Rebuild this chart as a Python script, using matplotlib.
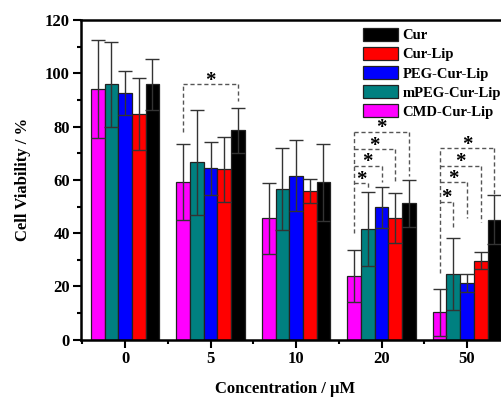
import numpy as np
import matplotlib
matplotlib.use("Agg")
import matplotlib.pyplot as plt
from matplotlib.ticker import MultipleLocator, FixedLocator

plt.rcParams['font.family'] = ['Liberation Serif', 'DejaVu Serif']
plt.rcParams['font.weight'] = 'bold'

groups = ['0', '5', '10', '20', '50']
series_names = ['CMD-Cur-Lip', 'mPEG-Cur-Lip', 'PEG-Cur-Lip', 'Cur-Lip', 'Cur']
colors = ['#FF00FF', '#008080', '#0000FF', '#FF0000', '#000000']

cmd = [94.1, 59.2, 45.6, 23.9, 10.4]
mpeg = [95.9, 66.6, 56.6, 41.5, 24.6]
peg = [92.5, 64.3, 61.6, 49.7, 21.2]
curlip = [84.6, 64.0, 55.8, 45.8, 29.7]
cur = [95.9, 78.6, 59.1, 51.2, 45.0]

cmd_err = [18.3, 14.2, 13.4, 9.8, 8.8]
mpeg_err = [16.0, 19.8, 15.5, 13.8, 13.6]
peg_err = [8.3, 10.0, 13.4, 7.6, 3.4]
curlip_err = [13.5, 12.2, 4.5, 9.3, 3.2]
cur_err = [9.5, 8.4, 14.5, 8.9, 9.2]

values = [cmd, mpeg, peg, curlip, cur]
errors = [cmd_err, mpeg_err, peg_err, curlip_err, cur_err]

# significance brackets: (group index, left bar, right bar, level, right-end bottom)
brk_group = [1, 3, 3, 3, 3, 4, 4, 4, 4]
brk_left = [0, 0, 0, 0, 0, 0, 0, 0, 0]
brk_right = [4, 1, 2, 3, 4, 1, 2, 3, 4]
brk_level = [95.9, 58.7, 65.3, 71.6, 78.1, 51.8, 59.1, 65.3, 71.9]
brk_rbottom = [89.5, 57.0, 59.3, 59.3, 61.5, 42.4, 45.6, 44.3, 54.3]
# left common line bottom per group
left_group = [1, 3, 4]
left_bottom = [78.0, 40.0, 25.0]

fig = plt.figure(figsize=(5.01, 3.99), dpi=100)
ax = fig.add_axes([0.1617, 0.1484, 0.8563, 0.8016])

x = np.arange(len(groups))
w = 0.16
offsets = (np.arange(5) - 2) * w
bars = []
for i in range(5):
    b = ax.bar(x + offsets[i], values[i], w, color=colors[i], edgecolor='#222222',
               linewidth=0.9, label=series_names[i], zorder=2)
    ax.errorbar(x + offsets[i], values[i], yerr=errors[i], fmt='none',
                ecolor='#333333', elinewidth=1.0, capsize=5, capthick=1.0, zorder=3)
    bars.append(b)

dash = dict(color='#555555', lw=1.0, linestyle=(0, (3, 2)), zorder=4)
for gi, lb in zip(left_group, left_bottom):
    tops = [lv for g, lv in zip(brk_group, brk_level) if g == gi]
    xl = gi + offsets[0]
    ax.plot([xl, xl], [lb, max(tops)], **dash)
for g, l, r, lv, rb in zip(brk_group, brk_left, brk_right, brk_level, brk_rbottom):
    xl = g + offsets[l]
    xr = g + offsets[r]
    ax.plot([xl, xr], [lv, lv], **dash)
    ax.plot([xr, xr], [lv, rb], **dash)
    ax.text((xl + xr) / 2, lv - 0.6, '*', ha='center', va='baseline', fontsize=15,
            fontweight='bold', zorder=5)

ax.set_xlim(-0.515, 4.503)
ax.set_ylim(0, 120)
ax.set_xticks(x)
ax.set_xticklabels(groups)
ax.xaxis.set_minor_locator(FixedLocator(np.arange(-0.5, 5, 1.0)))
ax.yaxis.set_major_locator(MultipleLocator(20))
ax.yaxis.set_minor_locator(MultipleLocator(10))
ax.tick_params(axis='both', which='major', direction='out', length=6, width=1.5,
               labelsize=12, pad=2)
ax.tick_params(axis='both', which='minor', direction='out', length=3, width=1.5)
for s in ax.spines.values():
    s.set_linewidth(1.8)

ax.set_ylabel('Cell Viability / %', fontsize=12, fontweight='bold')
ax.yaxis.set_label_coords(-0.116, 0.5)
ax.set_xlabel('Concentration / μM', fontsize=12, fontweight='bold')
ax.xaxis.set_label_coords(0.4755, -0.128)

handles = bars[::-1]
labels = series_names[::-1]
leg = ax.legend(handles, labels, loc='upper left', bbox_to_anchor=(363 / 501, 1 - 28 / 399),
                bbox_transform=fig.transFigure, frameon=False, borderpad=0, borderaxespad=0,
                handlelength=2.4, handleheight=0.95, labelspacing=0.33, handletextpad=0.3,
                prop={'size': 10.5, 'weight': 'bold'})

fig.savefig('out.png', dpi=100)
